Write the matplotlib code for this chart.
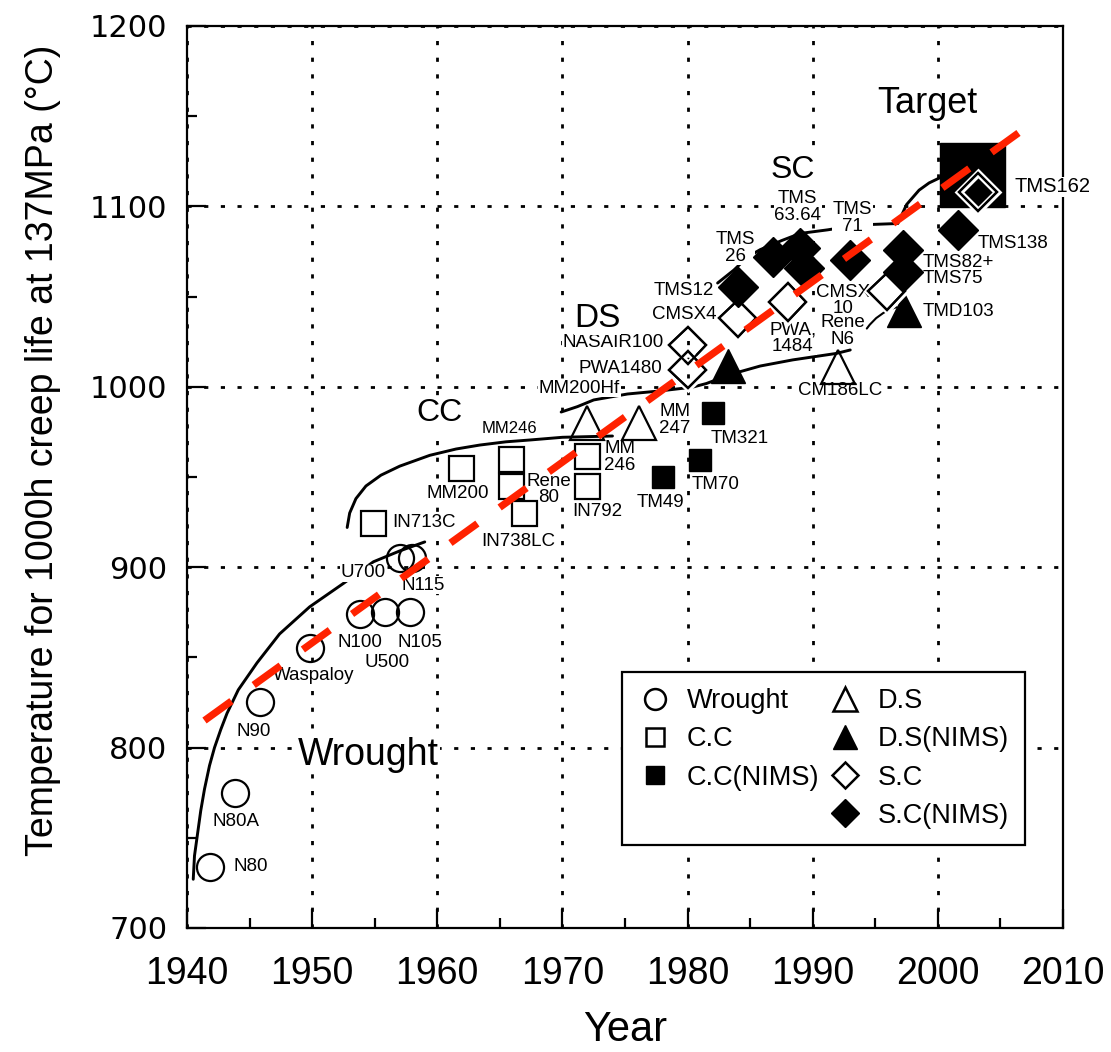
import matplotlib
matplotlib.use("Agg")
import matplotlib.pyplot as plt
import matplotlib.patheffects as pe
from matplotlib.lines import Line2D
from matplotlib.patches import Rectangle

LABEL_FONT = ['Liberation Sans', 'DejaVu Sans']
NARROW_FONT = ['Liberation Sans Narrow', 'Liberation Sans', 'DejaVu Sans']

# alloy data: year of introduction vs. temperature for 1000 h creep life at 137 MPa
wrought_years = [1941.8, 1943.8, 1945.8, 1949.8, 1953.8, 1955.8, 1957.8, 1957.0, 1958.0]
wrought_temps = [734, 775, 825, 855, 874, 875, 875, 905, 905]

cc_years = [1954.9, 1961.9, 1965.9, 1965.9, 1966.9, 1972.0, 1972.0]
cc_temps = [924.5, 955, 960, 945, 930, 961.5, 945]

cc_nims_years = [1978.0, 1981.0, 1982.0]
cc_nims_temps = [950, 959.5, 985.5]

ds_years = [1972.0, 1976.1, 1992.0]
ds_temps = [980, 980, 1011]

ds_nims_years = [1983.2, 1997.3]
ds_nims_temps = [1011.5, 1042.5]

sc_years = [1980.0, 1980.0, 1984.0, 1988.0, 1995.9, 2003.2]
sc_temps = [1023, 1009.5, 1038, 1047, 1053, 1108]

sc_nims_years = [1984.0, 1986.8, 1989.0, 1989.3, 1993.0, 1997.2, 1997.2, 2001.6]
sc_nims_temps = [1055.5, 1072, 1077, 1066, 1070.3, 1075.8, 1063.6, 1087]

# target region (year range, temperature range)
target_years = [2000.2, 2005.4]
target_temps = [1099.7, 1135]

# hand-drawn development curves for each alloy class
wrought_curve_x = [1940.5, 1940.6, 1940.8, 1941.1, 1941.4, 1941.8, 1942.2, 1942.7, 1943.2,
                   1944.1, 1945.6, 1947.4, 1949.8, 1952.5, 1954.9, 1957.0, 1959.0]
wrought_curve_y = [727, 740, 750, 765, 777, 790, 800, 810, 819,
                   832, 847, 863, 878, 891, 903, 909, 914]

cc_curve_x = [1952.8, 1953.0, 1953.5, 1954.3, 1955.5, 1957.0, 1959.4, 1961.5, 1963.4,
              1965.5, 1967.4, 1970.0, 1974.0]
cc_curve_y = [922, 930, 938, 945, 951, 956, 962, 965.5, 967.7,
              969.5, 970.5, 972, 972.7]

ds_curve_x = [1969.9, 1971.2, 1972.5, 1975.2, 1977.8, 1980.4, 1981.5, 1983.5, 1985.8,
              1988.4, 1991.9, 1993.0]
ds_curve_y = [986, 989, 992.7, 996, 997.7, 999.8, 1001.8, 1007, 1011.5,
              1014.9, 1018.5, 1020.4]

sc_curve_x = [1982.4, 1983.7, 1984.8, 1985.8, 1987.5, 1989.0, 1991.2, 1993.0, 1994.8,
              1996.8, 1997.5, 1998.5, 1999.3, 2000.2]
sc_curve_y = [1057.5, 1064.7, 1072, 1076, 1081, 1085, 1087, 1089, 1090,
              1090.5, 1101, 1109, 1113, 1116]

# overall trend line
trend_years = [1941.4, 2006.7]
trend_temps = [815, 1142]

# alloy name labels: text, year, temperature, size, alignment
alloy_labels = [
    ('N80', 1945.1, 734, 13.5, 'center'), ('N80A', 1943.9, 759, 13.5, 'center'),
    ('N90', 1945.3, 809, 13.5, 'center'), ('Waspaloy', 1950.1, 840, 13.5, 'center'),
    ('N100', 1953.8, 858, 13.5, 'center'), ('U500', 1956.0, 847, 13.5, 'center'),
    ('N105', 1958.6, 858, 13.5, 'center'), ('U700', 1954.1, 897, 13.5, 'center'),
    ('N115', 1958.9, 890, 13.5, 'center'), ('IN713C', 1958.9, 924.5, 13.5, 'center'),
    ('MM200', 1961.6, 941, 13.5, 'center'), ('MM246', 1965.8, 976.6, 12, 'center'),
    ('Rene\n80', 1968.9, 943, 13.5, 'center'), ('IN738LC', 1966.5, 914, 13.5, 'center'),
    ('MM\n246', 1974.6, 961, 13.5, 'center'), ('IN792', 1972.8, 930.6, 13.5, 'center'),
    ('TM49', 1977.8, 935.6, 13.5, 'center'), ('TM70', 1982.2, 945.6, 13.5, 'center'),
    ('TM321', 1984.2, 971.6, 13.5, 'center'), ('MM\n247', 1979.0, 981.6, 13.5, 'center'),
    ('MM200Hf', 1974.6, 999.3, 13.5, 'right'), ('PWA1480', 1978.0, 1010.4, 13.5, 'right'),
    ('NASAIR100', 1978.1, 1024.3, 13.5, 'right'), ('CMSX4', 1979.7, 1039.8, 13.5, 'center'),
    ('TMS12', 1979.7, 1053.6, 13.5, 'center'), ('TMS\n26', 1983.8, 1077, 13.5, 'center'),
    ('TMS\n63.64', 1988.8, 1099.7, 13.5, 'center'), ('TMS\n71', 1993.2, 1093.6, 13.5, 'center'),
    ('PWA,\n1484', 1988.4, 1027, 13.5, 'center'), ('CMSX\n10', 1992.4, 1048, 13.5, 'center'),
    ('Rene\nN6', 1992.4, 1031, 13.5, 'center'), ('CM186LC', 1992.2, 998, 13.5, 'center'),
    ('TMS162', 2009.2, 1110.8, 14.5, 'center'), ('TMS138', 2006.0, 1079.7, 13.5, 'center'),
    ('TMS82+', 1998.8, 1069, 13.5, 'left'), ('TMS75', 1998.8, 1060, 13.5, 'left'),
    ('TMD103', 1998.8, 1041.5, 13.5, 'left'),
]

# class names
class_labels = [('Wrought', 1954.5, 796, 27), ('CC', 1960.2, 985.5, 23),
                ('DS', 1972.8, 1037.6, 24), ('SC', 1988.4, 1120, 23),
                ('Target', 1999.2, 1156.8, 26)]

fig = plt.figure(figsize=(11.11, 10.52), dpi=100)
ax = fig.add_axes([0.1683, 0.1179, 0.7885, 0.8574])

ax.set_xlim(1940, 2010)
ax.set_ylim(700, 1200)
ax.set_xticks(range(1940, 2011, 10))
ax.set_xticks(range(1945, 2010, 10), minor=True)
ax.set_yticks(range(700, 1201, 100))
ax.set_yticks(range(750, 1200, 100), minor=True)
ax.grid(True, which='major', color='black', linestyle=(0, (1.5, 4.5)), linewidth=2.0)
ax.set_axisbelow(True)
for s in ax.spines.values():
    s.set_linewidth(1.6)
ax.tick_params(which='major', direction='in', length=14, width=1.6)
ax.tick_params(which='minor', direction='in', length=7, width=1.6)
ax.tick_params(axis='y', pad=14)
ax.tick_params(axis='x', pad=20)
for lab in ax.get_yticklabels():
    lab.set_fontfamily(['DejaVu Sans'])
    lab.set_fontsize(22)
for lab in ax.get_xticklabels():
    lab.set_fontfamily(NARROW_FONT)
    lab.set_fontsize(27)

ax.set_ylabel('Temperature for 1000h creep life at 137MPa (°C)', fontsize=27, family=NARROW_FONT)
ax.yaxis.set_label_coords(-0.164, 0.53)
ax.yaxis.label.set_va('center')
ax.set_xlabel('Year', fontsize=30, family=NARROW_FONT)
ax.xaxis.set_label_coords(0.5, -0.113)
ax.xaxis.label.set_va('center')

# class curves
for cx, cy in [(wrought_curve_x, wrought_curve_y), (cc_curve_x, cc_curve_y),
               (ds_curve_x, ds_curve_y), (sc_curve_x, sc_curve_y)]:
    ax.plot(cx, cy, color='black', linewidth=2.1, zorder=2, solid_capstyle='round')

# alloy labels with white backing so they break curves and grid lines
for txt, x, y, fs, ha in alloy_labels:
    ax.text(x, y, txt, fontsize=fs, family=LABEL_FONT, ha=ha, va='center',
            multialignment='center', linespacing=0.95, zorder=3,
            bbox=dict(facecolor='white', edgecolor='none', pad=0.4))
for txt, x, y, fs in class_labels:
    ax.text(x, y, txt, fontsize=fs, family=LABEL_FONT, ha='center', va='center', zorder=3,
            bbox=dict(facecolor='white', edgecolor='none', pad=0.5))

ax.annotate('', xy=(1996.9, 1044.5), xytext=(1994.2, 1031),
            arrowprops=dict(arrowstyle='-', color='black', lw=1.5,
                            connectionstyle='arc3,rad=-0.2'), zorder=3)

# target box
ax.add_patch(Rectangle((target_years[0], target_temps[0]),
                       target_years[1] - target_years[0], target_temps[1] - target_temps[0],
                       facecolor='black', edgecolor='black', zorder=4))

open_kw = dict(linestyle='none', markerfacecolor='none', markeredgecolor='black',
               markeredgewidth=1.6, zorder=5)
fill_kw = dict(linestyle='none', color='black', zorder=5)

ax.plot(wrought_years, wrought_temps, marker='o', markersize=19.5, **open_kw)
ax.plot(cc_years, cc_temps, marker='s', markersize=18, **open_kw)
ax.plot(cc_nims_years, cc_nims_temps, marker='s', markersize=16.5, **fill_kw)
ax.plot(ds_years, ds_temps, marker='^', markersize=24, **open_kw)
ax.plot(ds_nims_years, ds_nims_temps, marker='^', markersize=25, **fill_kw)
sc_line, = ax.plot(sc_years, sc_temps, marker='D', markersize=19, **open_kw)
sc_line.set_path_effects([pe.withStroke(linewidth=5, foreground='white'), pe.Normal()])
ax.plot(sc_nims_years, sc_nims_temps, marker='D', markersize=20, **fill_kw)

# overall trend
ax.plot(trend_years, trend_temps, color='#ff2200', linewidth=5.2,
        linestyle=(0, (4.6, 3.8)), dash_capstyle='butt', zorder=7)

handles = [
    Line2D([], [], marker='o', ls='none', mfc='none', mec='black', mew=1.8, ms=15),
    Line2D([], [], marker='s', ls='none', mfc='none', mec='black', mew=1.8, ms=13.5),
    Line2D([], [], marker='s', ls='none', color='black', ms=13.5),
    Line2D([], [], ls='none'),
    Line2D([], [], marker='^', ls='none', mfc='none', mec='black', mew=1.8, ms=17),
    Line2D([], [], marker='^', ls='none', color='black', ms=17),
    Line2D([], [], marker='D', ls='none', mfc='none', mec='black', mew=1.8, ms=13.5),
    Line2D([], [], marker='D', ls='none', color='black', ms=14.5),
]
labels = ['Wrought', 'C.C', 'C.C(NIMS)', '', 'D.S', 'D.S(NIMS)', 'S.C', 'S.C(NIMS)']
leg = ax.legend(handles, labels, ncol=2, loc='upper left', bbox_to_anchor=(0.4966, 0.2838),
                borderaxespad=0, prop={'family': LABEL_FONT, 'size': 19.5}, frameon=True,
                fancybox=False, edgecolor='black', framealpha=1, labelspacing=0.45,
                columnspacing=0.35, handletextpad=0.6, borderpad=0.6, handlelength=1.2)
leg.get_frame().set_linewidth(1.6)
leg.set_zorder(10)

fig.savefig('out.png', dpi=100)
